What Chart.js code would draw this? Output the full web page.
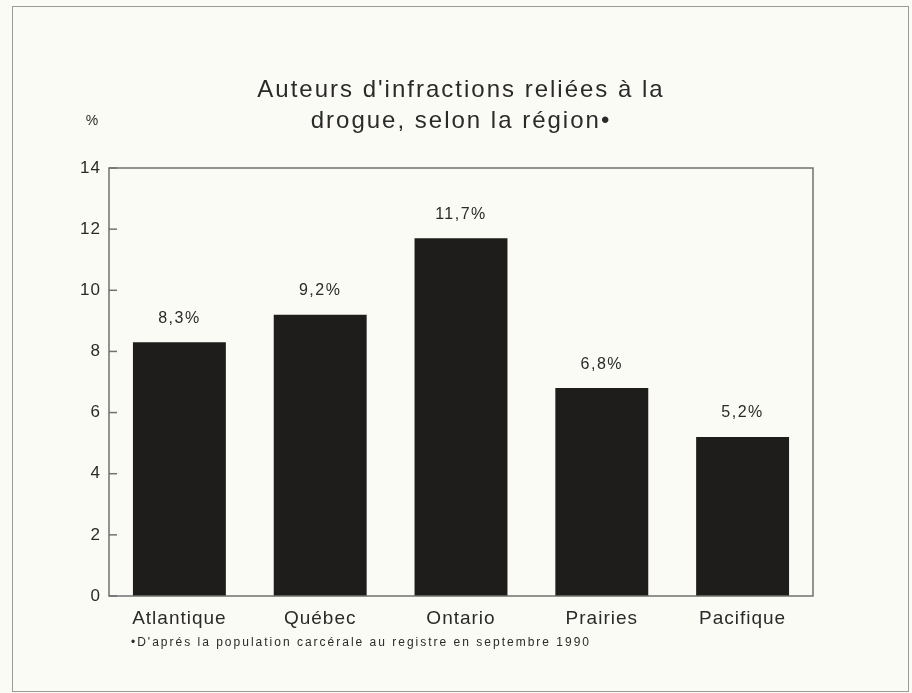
<!DOCTYPE html>
<html lang="fr">
<head>
<meta charset="utf-8">
<title>Auteurs d'infractions reliées à la drogue, selon la région</title>
<script src="https://cdn.jsdelivr.net/npm/chart.js@4.4.1/dist/chart.umd.min.js"></script>
<style>
  html, body { margin: 0; padding: 0; background: #fbfbf5; }
  #wrap { position: relative; width: 912px; height: 693px; }
  #frame { position: absolute; left: 12px; top: 6px; width: 895px; height: 684px; border: 1px solid #9a9a9a; }
  #drug-chart { position: absolute; left: 0; top: 0; }
</style>
</head>
<body>
<div id="wrap">
  <div id="frame"></div>
  <canvas id="drug-chart"></canvas>
</div>
<script>
const regions = ['Atlantique', 'Québec', 'Ontario', 'Prairies', 'Pacifique'];
const offenderShare = [8.3, 9.2, 11.7, 6.8, 5.2];
const yTicks = [0, 2, 4, 6, 8, 10, 12, 14];
const titleLines = ["Auteurs d'infractions reliées à la", 'drogue, selon la région•'];
const unitLabel = '%';
const footnote = "•D'aprés la population carcérale au registre en septembre 1990";

const ink = '#2b2929';
const family = '"Liberation Sans", Arial, Helvetica, sans-serif';
Chart.defaults.font.family = family;

const pct = v => v.toFixed(1).replace('.', ',') + '%';

// box around the plot, inward ticks, bar values and the surrounding text
const decorations = {
  id: 'decorations',
  beforeDraw(chart) {
    chart.ctx.letterSpacing = '1px';
  },
  afterDatasetsDraw(chart) {
    const { ctx, chartArea: a } = chart;
    const y = chart.scales.y;
    ctx.save();

    ctx.strokeStyle = '#707070';
    ctx.lineWidth = 1.5;
    ctx.strokeRect(a.left, a.top, a.right - a.left, a.bottom - a.top);
    yTicks.forEach(v => {
      const py = y.getPixelForValue(v);
      ctx.beginPath();
      ctx.moveTo(a.left, py);
      ctx.lineTo(a.left + 8, py);
      ctx.stroke();
    });

    ctx.fillStyle = ink;
    ctx.textAlign = 'center';
    ctx.textBaseline = 'middle';
    ctx.font = '16px ' + family;
    ctx.letterSpacing = '1.5px';
    chart.getDatasetMeta(0).data.forEach((bar, i) => {
      ctx.fillText(pct(offenderShare[i]), bar.x, bar.y - 24);
    });

    ctx.font = '24px ' + family;
    ctx.letterSpacing = '2px';
    const cx = (a.left + a.right) / 2;
    titleLines.forEach((line, i) => ctx.fillText(line, cx, a.top - 78 + i * 31));

    ctx.font = '14px ' + family;
    ctx.letterSpacing = '0px';
    ctx.fillText(unitLabel, a.left - 17, a.top - 47);

    ctx.textAlign = 'left';
    ctx.font = '12px ' + family;
    ctx.letterSpacing = '2px';
    ctx.fillText(footnote, a.left + 22, a.bottom + 47);

    ctx.restore();
  }
};

new Chart(document.getElementById('drug-chart'), {
  type: 'bar',
  data: {
    labels: regions,
    datasets: [{
      data: offenderShare,
      backgroundColor: '#1f1c1c',
      borderWidth: 0,
      barPercentage: 0.66,
      categoryPercentage: 1
    }]
  },
  options: {
    responsive: true,
    maintainAspectRatio: false,
    animation: false,
    layout: { padding: { top: 168, right: 99, bottom: 37, left: 69 } },
    plugins: {
      legend: { display: false },
      tooltip: { enabled: false }
    },
    scales: {
      x: {
        grid: { display: false },
        border: { display: false },
        ticks: { color: ink, font: { size: 19 }, padding: 3 },
        afterFit: s => { s.height = 60; }
      },
      y: {
        min: 0,
        max: 14,
        afterBuildTicks: s => { s.ticks = yTicks.map(v => ({ value: v })); },
        grid: { display: false },
        border: { display: false },
        ticks: { color: ink, font: { size: 17 }, padding: 0 },
        afterFit: s => { s.width = 40; }
      }
    }
  },
  plugins: [decorations]
});
</script>
</body>
</html>
